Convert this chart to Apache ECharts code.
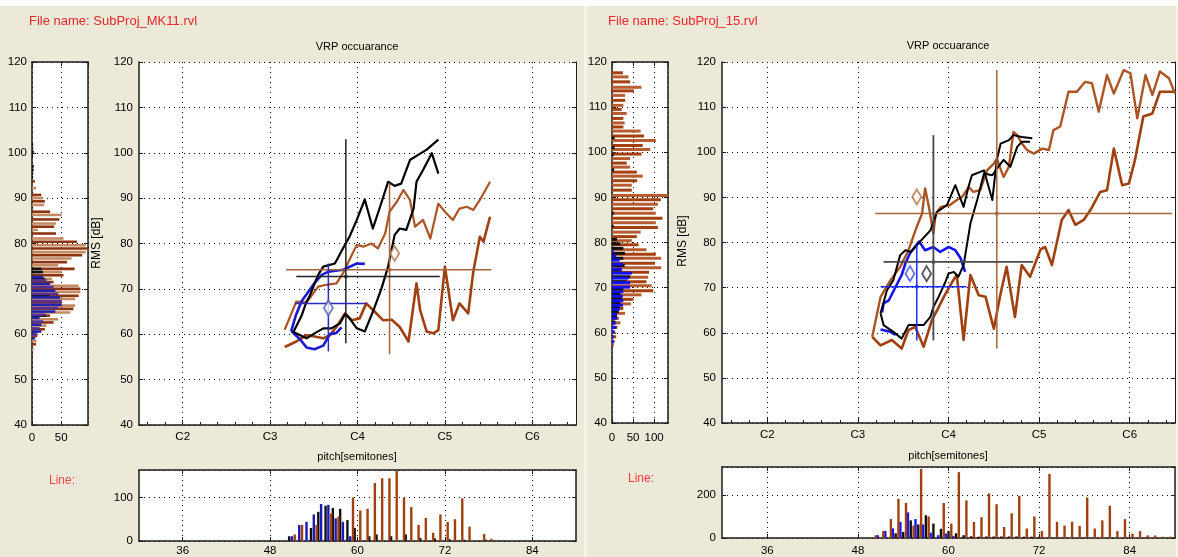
<!DOCTYPE html>
<html><head><meta charset="utf-8">
<script src="https://cdn.jsdelivr.net/npm/echarts@6/dist/echarts.min.js"></script>
<style>html,body{margin:0;padding:0;background:#ECE9D8;}#c{width:1178px;height:557px;}</style>
</head><body><div id="c"></div><script>
// ---------- shared tick labels ----------
const noteNames = ['C2','C3','C4','C5','C6'];
const pitchTicks = [36,48,60,72,84];

// ---------- LEFT panel (SubProj_MK11) : VRP contours [pitch, dB] ----------
const brownUpperL = [[50,61],[51.6,67.2],[53,67],[54.6,70.5],[55.7,70.9],[57.1,71.2],[58,73.4],[58.9,76.4],[59.9,79.7],[60.8,79.3],[61.9,80],[62.8,78.9],[63.8,82.2],[64.4,87],[65.4,89.2],[66.3,91.8],[67.2,89.6],[67.9,83.7],[69,85.2],[70,81.1],[71.1,88.8],[72,87],[73.1,85.2],[74,87.7],[75,88.1],[75.9,87.4],[76.8,89.6],[78.2,93.6]];
const brownLowerL = [[50,57.2],[51.6,58.4],[53,59.8],[54.1,59.5],[55.3,59.1],[56.2,59.8],[57.1,61.6],[58.3,64.6],[59.2,63.1],[60.3,63.5],[61.2,66.8],[62.4,64.9],[63.5,63.1],[64.7,63.2],[65.8,61.6],[67,58.4],[68.1,71.2],[68.6,65.3],[69.5,60.6],[70.4,60.2],[71.1,60.9],[72,74.9],[73.1,63.1],[74,66.8],[75.2,64.6],[75.9,73.8],[76.8,81.5],[77.3,80.4],[78.2,85.9]];
const blackUpperL = [[51.2,60.5],[52.3,64],[53,67.2],[53.4,68.3],[54.6,73.1],[55.3,74.9],[56.9,75.6],[58,78.9],[58.9,81.5],[59.9,85.2],[61,89.7],[62.1,83.3],[63.1,88.1],[64.2,93.6],[65.1,92.7],[66,93.2],[67.2,98.4],[68.1,99.3],[69.5,100.7],[71.1,102.9]];
const blackLowerL = [[51.2,60.5],[53,59.1],[54.1,60.2],[55.3,61.3],[56.4,61.3],[57.6,62.4],[58.3,64.5],[58.9,63.5],[59.9,61.3],[61,60.6],[62.2,65.3],[63.3,70.1],[64.2,74.9],[65.1,81.9],[65.8,83.3],[66.7,83],[67.7,87.7],[68.1,93.6],[69,96.2],[70.2,99.9],[71.1,95.4]];
const blueUpperL = [[50.9,60.7],[51.5,64],[52.3,67.2],[54.1,71.3],[55.1,73.1],[56,73.8],[58,74.2],[59.9,75.6],[61,75.5]];
const blueLowerL = [[50.9,60.7],[52.1,58.9],[53,57.1],[54.1,56.7],[55.3,57.5],[56.2,60],[57.1,60.3],[57.8,61.5]];
// crosshair: [meanPitch, meanDb, pitchLo, pitchHi, dbLo, dbHi]
const blueCrossL  = [56.0,66.8,51.4,61.2,56.2,75.6];
const blackCrossL = [58.4,72.7,51.6,71.3,58.0,103.0];
const brownCrossL = [64.4,74.2,50.2,78.4,55.6,93.3];
const blueDiamondL  = [[56,65.8]];
const brownDiamondL = [[65.1,77.8]];
// side histogram [dB, count]
const brownSideL = [[93.7,5],[92.2,7],[90.7,16],[90,19],[89.3,22],[88.5,21],[87,31],[86.3,51],[85.3,47],[84.4,41],[83.7,38],[83,10],[82.2,41],[81.1,54],[80.4,77],[79.6,92],[78.9,96],[78.1,92],[77.4,86],[76.7,68],[75.9,60],[75.2,45],[74.4,73],[73.7,51],[73,54],[72.2,34],[71.5,37],[70.7,80],[70,83],[69.3,83],[68.5,80],[67.8,74],[67,51],[66.3,74],[65.6,71],[64.8,66],[64.1,31],[63.3,45],[62.6,37],[61.9,25],[61.1,22],[60.4,10],[59.6,9],[58.5,8],[57.8,7],[56.7,3],[55.6,2]];
const blackSideL = [[101.8,2],[101,2],[100.2,3],[99.4,2],[97,3],[96.2,3],[95.4,2],[94.6,2],[74.4,16],[73.7,19],[72.2,22],[68.5,30],[64.1,24],[60.4,6]];
const blueSideL  = [[72.6,19],[71.9,25],[71.1,31],[70.4,37],[69.6,40],[68.9,45],[68.1,48],[67.3,51],[66.5,51],[65.8,45],[65,40],[64.3,22],[63.6,13],[62.8,19],[62.1,16],[61.3,13],[60.6,16],[59.9,8],[59.1,5]];
// bottom histogram [semitone, count]
const blueBotL  = [[51,11],[52,37],[53,44],[54,61],[55,85],[56,83],[57,52],[58,44],[59,11]];
const blackBotL = [[51,11],[54,30],[55,67],[56,81],[57,76],[58,74],[59,48],[60,30],[62,11],[63,15],[65,11],[67,15],[69,7],[71,6],[73,4],[75,3],[78,3]];
const brownBotL = [[51,15],[52,37],[54,37],[56,63],[57,56],[59,100],[60,70],[61,74],[62,133],[63,144],[64,144],[65,161],[66,100],[67,78],[68,37],[69,53],[70,19],[71,61],[72,44],[73,50],[74,98],[75,33],[77,16],[78,5]];

// ---------- RIGHT panel (SubProj_15) ----------
const brownUpperR = [[49.9,59.1],[51,67.9],[52.3,71.6],[53.6,74.6],[54.7,78.3],[55.8,83.5],[56.5,86.4],[56.9,92],[57.4,87.9],[58,82],[58.3,86.4],[59,87.9],[60.2,88.3],[61.1,89.4],[61.8,90.1],[62.7,92.3],[63.3,91.2],[64.2,91.6],[65.1,96],[66,97.5],[66.4,98.6],[67.3,94.5],[68,96.8],[68.6,104.5],[69.1,103.8],[69.7,102],[70.4,100.5],[71.3,99.7],[72.4,100.8],[73.3,100.5],[73.9,104.9],[74.8,105.7],[75.9,113.4],[77,113.4],[78.1,115.6],[79,115.3],[79.9,109],[81,117.1],[81.9,113],[83.2,118.2],[84.1,117.5],[85,107.5],[86.1,117.1],[87,112.7],[88,117.9],[89.2,116.4],[90,113]];
const brownLowerR = [[49.9,59.1],[51,57.2],[52.5,58.4],[53.8,56.5],[54.7,60.6],[55.6,61.3],[56.7,56.9],[57.8,62.8],[58.5,65],[59.4,68],[60.5,71.3],[61.1,72.8],[62,58.4],[62.9,72.8],[64,68.3],[64.9,68],[66,60.9],[66.9,68.7],[67.7,74.6],[68.8,63.5],[69.7,75],[70.8,72.4],[72.2,78.5],[72.8,79],[73.7,75],[75,85],[75.9,87.2],[76.8,83.9],[77.9,85],[78.8,87.2],[80.1,91.2],[81,91.6],[81.9,100.8],[83,92.7],[83.9,93.1],[84.7,98.3],[85.8,107.9],[87,108.6],[88,113.4],[89.8,113.4]];
const blackUpperR = [[51,64.3],[51.85,69.4],[52.7,71.7],[53.6,77.2],[54.3,78.3],[55,77.9],[55.8,79.4],[57.6,82.7],[58.5,86.8],[59.8,88.3],[60.9,92.7],[62,87.9],[62.7,92.7],[63.1,94.9],[64.7,96],[65.8,89.4],[66.4,98.3],[66.9,101.9],[68,102.7],[68.6,103.8],[69.7,103.4],[71.1,103.1]];
const blackLowerR = [[51,64.3],[51.4,61.7],[52.7,60.2],[53.8,58.7],[54.7,61.7],[55.6,61.7],[56.7,61.7],[57.6,63.5],[58,65.7],[58.7,68],[59.6,71.3],[60,73.1],[60.7,73.5],[61.3,72.4],[62,75],[62.9,84.2],[63.8,89.4],[64.7,95.3],[65.8,94.9],[66.6,96.8],[67.3,98.3],[68.2,96.8],[69.1,101.2],[69.7,102.3],[70.8,102.3]];
const blueUpperR = [[51.2,64.5],[51.4,66.5],[52.1,67.2],[53,70.2],[53.8,72.8],[54.3,75.4],[54.9,77.6],[56.1,80.2],[56.9,78.3],[58,79],[58.9,77.9],[60,79],[60.9,78.3],[61.6,76.5],[62.2,73.5]];
const blueLowerR = [[51,60.7],[52.3,60.2],[53,59.5]];
const blueCrossR  = [55.8,70.2,51.0,62.4,58.3,79.4];
const blackCrossR = [58.0,75.7,51.4,71.2,58.3,103.8];
const brownCrossR = [66.4,86.4,50.3,89.6,56.5,118.2];
const blueDiamondR  = [[54.9,73.1]];
const blackDiamondR = [[57.1,73.1]];
const brownDiamondR = [[55.8,90.1]];
const brownSideR = [[117.6,26],[116.7,39],[115.6,43],[114.4,70],[113.6,52],[112.6,31],[111.5,31],[110.4,27],[109.5,23],[108.6,35],[107.5,27],[106.5,30],[105.6,27],[104.7,68],[103.6,76],[102.6,104],[101.5,73],[100.6,91],[99.6,70],[98.6,43],[97.6,35],[96.7,43],[95.6,59],[94.7,73],[93.7,60],[92.7,47],[91.6,47],[90.4,133],[89.5,116],[88.5,109],[87.5,98],[86.5,104],[85.4,120],[84.4,104],[83.3,109],[82.3,68],[81.3,59],[80.4,47],[79.5,63],[78.4,82],[77.4,104],[76.5,117],[75.4,102],[74.4,117],[73.4,88],[72.3,86],[71.3,82],[70.4,94],[69.3,98],[68.4,70],[67.4,51],[66.4,45],[65.4,27],[64.3,31],[63.2,16],[62.2,20],[61.2,13],[60.1,8],[59.1,10],[58.1,6],[57.3,4]];
const blackSideR = [[103.2,6],[101,6],[99.5,4],[96.1,5],[86.5,4],[83.6,4],[80.7,12],[79.7,20],[78.7,27],[77.6,31],[76.5,27],[74.9,30],[73.9,23],[72.4,43],[71.3,35],[69.8,27],[68.7,20],[67.6,23],[66.5,20],[65.8,18],[64.7,16],[63.6,12],[62.4,8]];
const blueSideR  = [[78,4],[77,10],[76.1,18],[75.2,26],[74.1,23],[73.2,47],[72.1,39],[71.1,43],[70.1,43],[69.1,27],[68.1,26],[67.1,27],[66.1,26],[65.2,18],[64.1,12],[63.2,12],[62.1,8],[61.2,10],[60.2,6],[59.1,4],[58,5]];
const blueBotR  = [[51,13],[52,33],[53,45],[54,75],[55,119],[56,88],[57,63],[58,25],[59,13],[60,21],[61,10]];
const blackBotR = [[53,22],[54,28],[55,82],[56,63],[57,106],[58,67],[59,43],[60,33],[61,22],[62,13],[63,8],[64,6],[65,7],[66,7],[67,7],[68,7],[69,7],[70,6],[71,6],[72,4]];
const brownBotR = [[50,13],[51,33],[52,88],[53,182],[54,163],[55,58],[56,321],[57,100],[59,163],[60,67],[61,306],[62,175],[63,75],[64,97],[65,207],[66,157],[67,51],[68,115],[69,196],[70,44],[71,100],[72,32],[73,298],[74,75],[75,58],[76,76],[77,56],[78,188],[79,44],[80,82],[81,150],[82,32],[83,88],[84,20],[85,32],[86,12],[87,12],[88,6],[89,6]];

// ---------- chart building ----------
const F = "'Liberation Sans',Arial,sans-serif";
const AX = '#1c1c1c';
const DOT = {type:[1,4], color:'#000', width:1};
const minorPitch = [];
for (let k = -2; k <= 22; k++) { const v = 36 + 2.4*k; if (v > 30 && v < 90 && pitchTicks.indexOf(v) < 0) minorPitch.push(+v.toFixed(2)); }

const grids = [], xAxes = [], yAxes = [], series = [];
function lab(o){ return Object.assign({show:true,color:'#000',fontSize:11.5,fontFamily:F,margin:6}, o||{}); }
function line(w){ return {show:true,onZero:false,lineStyle:{color:AX,width:w||1.5}}; }
function tick(len, cv){ const t={show:true,inside:true,length:len,lineStyle:{color:AX}}; if(cv) t.customValues=cv; return t; }
function addGrid(g){ grids.push(Object.assign({show:true,backgroundColor:'#fff',borderWidth:0,containLabel:false},g)); return grids.length-1; }
function xa(c){ xAxes.push(c); return xAxes.length-1; }
function ya(c){ yAxes.push(c); return yAxes.length-1; }

function hbars(xi, yi, data, cols, w){
  return {type:'custom', xAxisIndex:xi, yAxisIndex:yi, data:data, encode:{x:1,y:0}, silent:true, animation:false, clip:true, z:3,
    renderItem:function(p, api){
      const db=api.value(0), v=api.value(1);
      const a=api.coord([0,db]), b=api.coord([v,db]);
      return {type:'rect', shape:{x:a[0], y:a[1]-w/2, width:b[0]-a[0], height:w}, style:{fill:cols[p.dataIndex%cols.length]}};
    }};
}
function vbars(xi, yi, data, col, off, w){
  return {type:'custom', xAxisIndex:xi, yAxisIndex:yi, data:data, encode:{x:0,y:1}, silent:true, animation:false, clip:true, z:3,
    renderItem:function(p, api){
      const s=api.value(0), v=api.value(1);
      const a=api.coord([s,0]), b=api.coord([s,v]);
      return {type:'rect', shape:{x:a[0]+off-w/2, y:b[1], width:w, height:a[1]-b[1]}, style:{fill:col}};
    }};
}
function lineS(xi, yi, data, col, w, z){
  return {type:'line', xAxisIndex:xi, yAxisIndex:yi, data:data, symbol:'none', showSymbol:false, silent:true, animation:false, z:z||4,
    lineStyle:{color:col, width:w, join:'round'}};
}
function cross(xi, yi, c, col, w){
  series.push(lineS(xi, yi, [[c[2],c[1]],[c[3],c[1]]], col, w, 6));
  series.push(lineS(xi, yi, [[c[0],c[4]],[c[0],c[5]]], col, w, 6));
  series.push({type:'scatter', xAxisIndex:xi, yAxisIndex:yi, data:[[c[0],c[1]]], symbol:'circle', symbolSize:4, itemStyle:{color:col}, silent:true, animation:false, z:7});
}
function diamond(xi, yi, d, col){
  series.push({type:'scatter', xAxisIndex:xi, yAxisIndex:yi, data:d, symbol:'emptyDiamond', symbolSize:[9,15], itemStyle:{color:col, borderWidth:1}, silent:true, animation:false, z:8});
}

function sideHist(box, xmax, labMargin, brown, brownCols, black, blue, blueCols, w){
  const g = addGrid(box);
  const xi = xa({gridIndex:g,type:'value',min:0,max:xmax,interval:50,position:'bottom',axisLine:line(),axisTick:tick(4),axisLabel:lab({margin:labMargin,showMaxLabel:false}),splitLine:{show:true,lineStyle:DOT}});
  xa({gridIndex:g,type:'value',min:0,max:xmax,interval:50,position:'top',axisLine:line(),axisTick:tick(4),axisLabel:{show:false},splitLine:{show:false}});
  const yi = ya({gridIndex:g,type:'value',min:40,max:120,interval:10,position:'left',axisLine:line(),axisTick:tick(4),axisLabel:lab({margin:5}),splitLine:{show:true,lineStyle:DOT}});
  ya({gridIndex:g,type:'value',min:40,max:120,interval:10,position:'right',axisLine:line(),axisTick:tick(4),axisLabel:{show:false},splitLine:{show:false}});
  series.push(hbars(xi, yi, brown, brownCols, w));
  series.push(hbars(xi, yi, black, ['#111111'], w));
  series.push(hbars(xi, yi, blue, blueCols, w));
}
function mainPlot(box){
  const g = addGrid(box);
  const xi = xa({gridIndex:g,type:'value',min:30,max:90,position:'bottom',axisLine:line(),axisTick:tick(5,pitchTicks),
    axisLabel:lab({customValues:pitchTicks,margin:6,formatter:function(v){ return noteNames[pitchTicks.indexOf(v)] || ''; }}),splitLine:{show:true,lineStyle:DOT}});
  xa({gridIndex:g,type:'value',min:30,max:90,position:'bottom',axisLine:{show:false},axisTick:tick(3,minorPitch),axisLabel:{show:false},splitLine:{show:false}});
  const yi = ya({gridIndex:g,type:'value',min:40,max:120,interval:10,position:'left',axisLine:line(),axisTick:tick(4),axisLabel:lab({margin:6}),splitLine:{show:true,lineStyle:DOT}});
  ya({gridIndex:g,type:'value',min:40,max:120,interval:10,position:'right',axisLine:line(1),axisTick:tick(4),axisLabel:{show:false},splitLine:{show:false}});
  return [xi, yi];
}
function botHist(box, ymax, yint, labMargin){
  const g = addGrid(box);
  const xi = xa({gridIndex:g,type:'value',min:30,max:90,position:'bottom',axisLine:line(),axisTick:tick(4,pitchTicks),axisLabel:lab({customValues:pitchTicks,margin:labMargin}),splitLine:{show:true,lineStyle:DOT}});
  xa({gridIndex:g,type:'value',min:30,max:90,position:'top',axisLine:line(),axisTick:tick(4,pitchTicks),axisLabel:{show:false},splitLine:{show:false}});
  const yi = ya({gridIndex:g,type:'value',min:0,max:ymax,interval:yint,position:'left',axisLine:line(),axisTick:tick(4),axisLabel:lab({margin:6,showMaxLabel:false}),splitLine:{show:true,lineStyle:DOT}});
  ya({gridIndex:g,type:'value',min:0,max:ymax,interval:yint,position:'right',axisLine:line(),axisTick:tick(4),axisLabel:{show:false},splitLine:{show:false}});
  return [xi, yi];
}

const BROWN = '#A0400E', BROWN2 = '#AC5424', BLUE = '#1414F0', BLACK = '#000000';

// LEFT panel
sideHist({left:32,top:62,width:56,height:363}, 96, 7, brownSideL, ['#8C3410','#C48A62'], blackSideL, blueSideL, ['#2222B0','#55309A'], 2.6);
let m = mainPlot({left:139,top:62,width:437,height:363});
series.push(lineS(m[0], m[1], brownLowerL, BROWN, 2.6));
series.push(lineS(m[0], m[1], brownUpperL, BROWN2, 2.2));
series.push(lineS(m[0], m[1], blueUpperL, '#1A1AD0', 2.6));
series.push(lineS(m[0], m[1], blueLowerL, '#1A1AD0', 2.6));
series.push(lineS(m[0], m[1], blackUpperL, BLACK, 2.2));
series.push(lineS(m[0], m[1], blackLowerL, BLACK, 2.2));
cross(m[0], m[1], brownCrossL, '#A8643A', 1.5);
cross(m[0], m[1], blackCrossL, '#222222', 1.5);
cross(m[0], m[1], blueCrossL, '#2A2AC0', 1.5);
diamond(m[0], m[1], blueDiamondL, '#5060B0');
diamond(m[0], m[1], brownDiamondL, '#B07850');
let b = botHist({left:139,top:470,width:437,height:73}, 163, 100, 4);
series.push(vbars(b[0], b[1], blackBotL, '#111111', -2.8, 2.4));
series.push(vbars(b[0], b[1], blueBotL, '#1A1AB8', 0, 2.4));
series.push(vbars(b[0], b[1], brownBotL, BROWN, 2.8, 2.4));

// RIGHT panel
sideHist({left:612,top:62,width:56,height:361}, 133, 9, brownSideR, ['#A3400E','#B65C30'], blackSideR, blueSideR, ['#1010F0'], 3);
m = mainPlot({left:722,top:62,width:453,height:361});
series.push(lineS(m[0], m[1], brownLowerR, BROWN, 2.6));
series.push(lineS(m[0], m[1], brownUpperR, BROWN2, 2.4));
series.push(lineS(m[0], m[1], blueUpperR, BLUE, 2.6));
series.push(lineS(m[0], m[1], blueLowerR, BLUE, 2.6));
series.push(lineS(m[0], m[1], blackUpperR, BLACK, 2));
series.push(lineS(m[0], m[1], blackLowerR, BLACK, 2));
cross(m[0], m[1], brownCrossR, '#A8643A', 1.5);
cross(m[0], m[1], blackCrossR, '#4A4A4A', 1.8);
cross(m[0], m[1], blueCrossR, '#1A2CFF', 1.5);
diamond(m[0], m[1], brownDiamondR, '#B87048');
diamond(m[0], m[1], blueDiamondR, '#4050F0');
diamond(m[0], m[1], blackDiamondR, '#333333');
b = botHist({left:722,top:467,width:453,height:71}, 330, 200, 7);
series.push(vbars(b[0], b[1], blueBotR, '#1414FF', -2.8, 2.4));
series.push(vbars(b[0], b[1], blackBotR, '#111111', 0, 2.4));
series.push(vbars(b[0], b[1], brownBotR, BROWN, 2.8, 2.4));

function txt(x, y, s, o){ return {type:'text', x:x, y:y, silent:true, z:100, style:Object.assign({text:s, fill:'#000', fontSize:11, fontFamily:F, align:'center', verticalAlign:'middle'}, o||{})}; }
const graphics = [
  {type:'rect', shape:{x:0,y:0,width:1178,height:6}, style:{fill:'#ffffff'}, silent:true, z:0},
  {type:'rect', shape:{x:584,y:6,width:3,height:551}, style:{fill:'#f6f4ec'}, silent:true, z:0},
  {type:'rect', shape:{x:1176,y:6,width:2,height:551}, style:{fill:'#f6f4ec'}, silent:true, z:0},
  txt(29, 21, 'File name: SubProj_MK11.rvl', {fill:'#E0282A', fontSize:13, align:'left'}),
  txt(608, 21, 'File name: SubProj_15.rvl', {fill:'#F0242A', fontSize:13, align:'left'}),
  txt(357, 47, 'VRP occuarance'),
  txt(948, 46, 'VRP occuarance'),
  txt(357, 457, 'pitch[semitones]'),
  txt(948, 456, 'pitch[semitones]'),
  Object.assign(txt(97, 243, 'RMS [dB]', {fontSize:12}), {rotation: Math.PI/2}),
  Object.assign(txt(683, 241, 'RMS [dB]', {fontSize:12}), {rotation: Math.PI/2}),
  txt(49, 481, 'Line:', {fill:'#EE4848', fontSize:12, align:'left'}),
  txt(628, 479, 'Line:', {fill:'#FF3A3A', fontSize:12, align:'left'})
];

const chart = echarts.init(document.getElementById('c'), null, {renderer:'canvas'});
chart.setOption({
  backgroundColor:'#ECE9D8',
  animation:false,
  grid:grids, xAxis:xAxes, yAxis:yAxes, series:series,
  graphic:graphics
});
</script></body></html>
